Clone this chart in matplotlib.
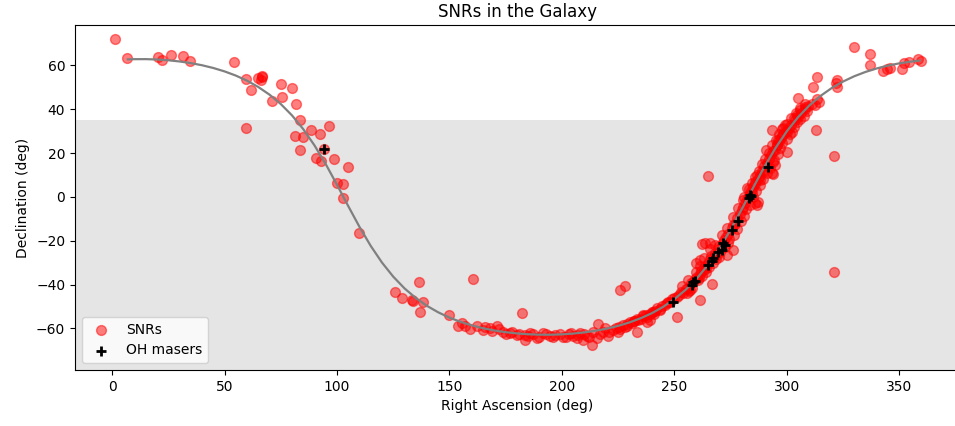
import numpy as np
import matplotlib
matplotlib.use("Agg")
import matplotlib.pyplot as plt

# Galactic plane
gp_ra = [7, 10, 15, 20, 25, 30, 35, 40, 45, 50, 55, 60, 65, 70, 75, 80, 85, 90,
         95, 100, 105, 110, 115, 120, 125, 130, 135, 140, 145, 150, 155, 160,
         165, 170, 175, 180, 185, 190, 195, 200, 205, 210, 215, 220, 225, 230,
         235, 240, 245, 250, 255, 260, 265, 270, 275, 280, 285, 290, 295, 300,
         305, 310, 315, 320, 325, 330, 335, 340, 345, 350, 355, 359]
gp_dec = [62.79, 62.88, 62.90, 62.73, 62.38, 61.84, 61.09, 60.11, 58.86, 57.31,
          55.40, 53.07, 50.19, 46.68, 42.42, 37.22, 30.95, 23.52, 14.97, 5.57,
          -4.17, -13.66, -22.35, -29.95, -36.38, -41.72, -46.12, -49.72, -52.67,
          -55.09, -57.06, -58.66, -59.95, -60.97, -61.74, -62.31, -62.69, -62.88,
          -62.90, -62.73, -62.38, -61.84, -61.09, -60.11, -58.86, -57.31, -55.40,
          -53.07, -50.19, -46.68, -42.42, -37.22, -30.95, -23.52, -14.97, -5.57,
          4.17, 13.66, 22.35, 29.95, 36.38, 41.72, 46.12, 49.72, 52.67, 55.09,
          57.06, 58.66, 59.95, 60.97, 61.74, 62.22]

# supernova remnants (ra, dec in deg)
snr_ra = [1.3, 6.5, 20.3, 22.1, 26.2, 31.4, 34.7, 54.4, 59.7, 61.8, 64.8, 66.5,
          66.0, 66.8, 71.0, 75.1, 75.7, 80.2, 81.7, 83.7, 59.7, 81.4, 85.1, 88.6,
          92.3, 96.6, 83.7, 94.4, 90.6, 92.8, 98.7, 105.1, 100.2, 102.6, 102.6,
          110.0, 125.8, 128.8, 133.3, 134.0, 136.6, 138.1, 137.0, 150.0, 154.0,
          155.5, 157.0, 159.2, 160.7, 162.2,
          165.1, 168.1, 171.0, 174.0, 177.0, 179.9, 182.4, 183.6, 183.6, 186.0,
          188.8, 191.8, 194.8, 197.0, 200.7, 203.0, 205.1, 206.6, 208.0, 209.6,
          211.1, 213.3, 215.5, 216.2, 218.5, 220.7, 222.9, 225.1, 225.9, 228.2,
          228.1, 231.1, 233.3, 236.2, 237.7, 240.7, 243.7, 246.6, 251.1, 261.5,
          266.8, 262.2, 263.7, 265.9, 259.7, 261.4, 273.3, 276.3, 285.9, 239.2,
          265.0, 321.2,
          166.0, 169.0, 172.0, 175.0, 178.0, 181.0, 185.0, 187.0, 190.0, 193.0,
          196.0, 199.0, 202.0, 204.0, 207.0, 210.0, 212.0, 214.0, 217.0, 219.0,
          221.0, 224.0, 226.0, 229.0, 232.0, 234.0, 238.0, 241.0,
          225.5, 227.0, 229.0, 230.5, 232.0, 233.5, 235.0, 236.0, 237.5, 239.0,
          240.0, 241.5, 242.5, 243.5, 244.5, 246.0, 247.0, 248.0, 249.0, 250.0,
          251.0, 252.0, 253.0, 254.0, 255.0, 256.0, 256.5, 257.5, 258.5, 259.0,
          260.0, 260.5, 261.5, 262.0, 263.0, 263.5, 264.0, 265.0, 265.5, 266.0,
          266.5, 267.5, 268.0, 268.5, 269.5, 270.0, 270.5, 271.5, 272.0, 273.0,
          274.0, 274.5, 275.5, 276.0, 277.0, 278.0, 279.0, 280.0, 280.5, 281.5,
          282.5, 283.0, 284.0, 285.0, 286.0, 287.0, 288.0, 289.0, 290.0, 291.0,
          292.0, 293.0, 294.0, 295.5, 296.5, 297.5, 298.5, 299.5, 301.0, 302.0,
          303.5, 305.0, 306.5, 308.0, 309.5, 311.0,
          255.5, 257.0, 258.0, 261.0, 262.5, 264.0, 267.0, 268.5, 270.0, 272.5,
          274.0, 276.5, 278.0, 279.5, 281.0, 282.0, 283.5, 285.0, 286.5, 288.0,
          289.5, 291.0, 292.5, 294.0, 296.0, 297.0, 298.0, 300.0, 301.5, 303.0,
          304.5, 306.0, 307.5, 309.0,
          253.5, 256.0, 259.5, 261.5, 263.0, 266.0, 268.0, 271.0, 273.5, 276.0,
          278.5, 281.0, 283.0, 284.5, 286.0, 287.5, 289.0, 290.5, 292.0, 293.5,
          295.0, 296.5, 298.0, 300.0, 302.0, 304.0, 306.0, 308.0,
          329.9, 336.9, 337.2, 343.0, 344.5, 345.9, 351.1, 352.3, 354.5, 358.5,
          359.5, 313.3, 311.8, 322.2, 322.5, 321.7, 304.9, 313.3, 314.5, 312.6,
          308.1, 305.9, 304.4, 303.2, 299.2, 298.5, 300.0, 302.2, 297.8, 293.3,
          312.9, 296.3, 295.5, 294.8, 290.6, 300.3, 321.2, 294.1, 294.8, 293.3,
          289.6, 286.6, 288.1, 285.9, 282.2, 284.4, 287.4, 280.7, 293.8, 286.6]
snr_dec = [72.1, 63.6, 64.1, 62.6, 64.8, 64.4, 62.2, 61.5, 53.9, 48.9, 54.5, 54.9,
           53.5, 55.4, 43.8, 51.4, 45.8, 49.6, 42.5, 35.3, 31.4, 27.9, 27.5, 30.7,
           28.6, 32.3, 21.3, 21.9, 17.7, 16.6, 17.4, 13.7, 6.4, 6.1, -0.6,
           -16.6, -43.5, -46.3, -47.2, -47.6, -39.0, -48.1, -52.6, -53.7, -59.0,
           -57.5, -59.0, -60.3, -37.4, -58.8,
           -60.7, -60.0, -58.9, -61.5, -62.2, -63.0, -52.8, -65.3, -63.0, -62.0,
           -64.5, -62.2, -63.5, -63.0, -64.1, -62.5, -63.5, -64.5, -62.0, -65.3,
           -63.5, -67.6, -64.5, -58.0, -61.5, -63.5, -60.7, -61.5, -42.5, -40.6,
           -59.2, -57.7, -61.5, -53.9, -56.9, -52.4, -51.3, -48.5, -54.9, -46.9,
           -39.9, -21.5, -21.1, -20.9, -30.0, -28.8, -26.5, -24.2, -2.9, -56.2,
           9.6, -34.4,
           -59.5, -61.0, -60.5, -62.5, -61.5, -62.5, -63.5, -62.8, -63.8, -62.8,
           -64.0, -62.8, -63.8, -62.0, -63.0, -62.5, -64.0, -61.8, -62.5, -60.0,
           -61.8, -59.8, -60.5, -58.8, -56.5, -56.0, -55.0, -53.5,
           -59.5, -58.5, -57.8, -57.0, -56.8, -55.5, -55.8, -54.5, -54.0, -53.5,
           -52.5, -52.0, -50.8, -51.5, -49.8, -49.5, -48.0, -47.8, -46.8, -46.0,
           -45.5, -44.8, -43.5, -43.8, -42.0, -41.5, -43.0, -39.5, -38.8, -37.5,
           -36.5, -38.0, -35.0, -34.0, -33.5, -31.5, -32.5, -30.0, -31.8, -28.5,
           -27.0, -27.5, -25.5, -26.8, -24.0, -22.5, -25.0, -21.0, -19.8, -18.5,
           -17.0, -19.0, -14.0, -13.0, -12.5, -9.5, -8.0, -6.0, -4.5, -3.0,
           -1.0, 1.0, 2.5, 4.5, 6.0, 8.0, 9.5, 12.0, 14.0, 15.5,
           17.5, 19.0, 21.0, 23.5, 25.5, 27.0, 28.5, 30.0, 31.5, 33.0,
           35.0, 36.5, 38.5, 40.0, 41.5, 42.5,
           -44.0, -42.5, -41.5, -37.0, -36.0, -34.5, -30.0, -28.5, -27.5, -23.0,
           -21.0, -17.5, -14.5, -11.0, -8.5, -5.5, -3.5, 0.0, 2.5, 5.5,
           8.0, 11.0, 13.0, 16.0, 19.5, 22.5, 24.5, 26.5, 28.5, 32.0,
           34.0, 35.5, 37.0, 39.0,
           -40.5, -38.0, -34.5, -31.5, -28.0, -24.0, -22.0, -17.5, -14.0, -9.0,
           -5.0, 0.0, 3.5, 6.5, 9.0, 12.0, 15.0, 17.5, 20.0, 23.5,
           26.0, 28.5, 31.0, 33.5, 36.0, 38.5, 40.5, 42.5,
           68.4, 65.2, 60.3, 57.5, 58.4, 58.8, 58.4, 61.3, 61.8, 63.0,
           62.1, 54.9, 50.4, 53.4, 50.4, 51.9, 45.1, 44.7, 43.5, 42.0,
           41.2, 39.7, 37.4, 35.9, 32.9, 31.4, 29.8, 29.8, 28.3, 30.6,
           30.4, 26.0, 23.7, 21.5, 21.5, 20.4, 18.9, 16.9, 14.6, 10.8,
           11.6, 10.0, 7.8, 7.0, 4.0, 2.4, -2.1, -1.4, 10.5, -3.7]

# OH masers
oh_ra = [94.4, 249.3, 257.7, 258.5, 259.2, 265.1, 266.6, 267.4, 269.6, 271.1,
         271.8, 272.6, 275.5, 278.5, 283.0, 283.7, 284.2, 291.5]
oh_dec = [22.0, -47.8, -40.2, -39.0, -38.2, -31.1, -29.1, -28.0, -25.0, -24.2,
          -21.1, -21.9, -15.1, -10.8, -0.6, 0.9, 0.2, 13.6]

fig = plt.figure(figsize=(9.55, 4.26), dpi=100)
ax = fig.add_axes([0.0785, 0.1315, 0.9267, 0.8099])

ax.axhspan(-90, 35, color='gray', alpha=0.2, lw=0, zorder=0)
ax.scatter(snr_ra, snr_dec, s=50, color='red', alpha=0.5, label='SNRs', zorder=2)
ax.plot(gp_ra, gp_dec, color='gray', lw=1.6, zorder=3)
ax.scatter(oh_ra, oh_dec, s=50, marker='+', color='black', linewidths=2,
           label='OH masers', zorder=4)

ax.set_xlim(-16.5, 377)
ax.set_ylim(-79, 78.5)
ax.set_xlabel('Right Ascension (deg)')
ax.set_ylabel('Declination (deg)')
ax.set_title('SNRs in the Galaxy', fontsize=12)
ax.legend(loc='lower left')

fig.savefig('out.png', dpi=100)
